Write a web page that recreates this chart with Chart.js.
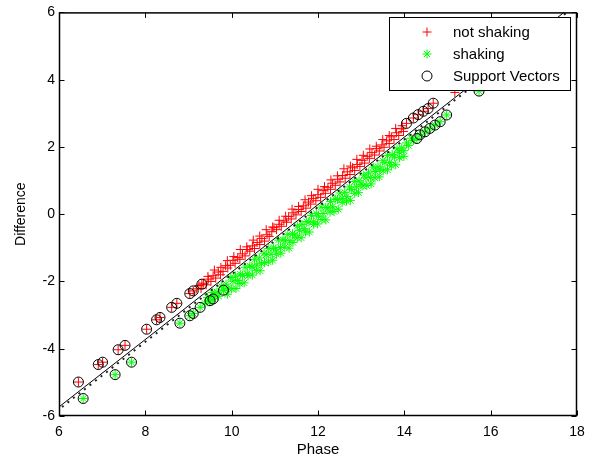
<!DOCTYPE html>
<html>
<head>
<meta charset="utf-8">
<script src="https://cdn.jsdelivr.net/npm/chart.js@4.4.0/dist/chart.umd.min.js"></script>
<style>
html, body { margin: 0; padding: 0; background: #fff; overflow: hidden; }
</style>
</head>
<body>
<canvas id="svmChart" width="594" height="460"></canvas>
<script>
// --- DATA ---

const xTicks = [6, 8, 10, 12, 14, 16, 18];
const yTicks = [-6, -4, -2, 0, 2, 4, 6];

// not shaking (red +), points that are not support vectors
const notShaking = [
    [9.18, -2.22], [9.24, -2.12], [9.29, -2.21], [9.35, -2.05], [9.41, -2.10], [9.46, -1.93],
    [9.52, -2.00], [9.57, -1.83], [9.63, -1.90], [9.69, -1.72], [9.74, -1.80], [9.80, -1.70],
    [9.86, -1.53], [9.91, -1.60], [9.97, -1.52], [10.03, -1.37], [10.08, -1.46], [10.14, -1.29],
    [10.19, -1.34], [10.25, -1.18], [10.31, -1.24], [10.36, -1.05], [10.42, -1.10], [10.48, -0.94],
    [10.53, -1.02], [10.59, -0.84], [10.65, -0.90], [10.70, -0.72], [10.76, -0.80], [10.82, -0.61],
    [10.87, -0.66], [10.93, -0.52], [10.98, -0.40], [11.04, -0.46], [11.10, -0.30], [11.15, -0.36],
    [11.21, -0.20], [11.27, -0.24], [11.32, -0.07], [11.38, -0.14], [11.44, 0.04], [11.49, -0.02],
    [11.55, 0.14], [11.61, 0.08], [11.66, 0.25], [11.72, 0.18], [11.78, 0.36], [11.83, 0.30],
    [11.89, 0.47], [11.95, 0.40], [12.00, 0.58], [12.06, 0.50], [12.12, 0.70], [12.17, 0.62],
    [12.23, 0.80], [12.29, 0.74], [12.34, 0.92], [12.40, 0.86], [12.46, 1.04], [12.51, 0.96],
    [12.57, 1.15], [12.63, 1.07], [12.68, 1.26], [12.74, 1.18], [12.80, 1.38], [12.85, 1.30],
    [12.91, 1.48], [12.97, 1.42], [13.02, 1.60], [13.08, 1.52], [13.14, 1.72], [13.19, 1.66],
    [13.25, 1.83], [13.31, 1.76], [13.36, 1.95], [13.42, 1.88], [13.48, 2.06], [13.53, 1.99],
    [13.59, 2.18], [13.65, 2.10], [13.70, 2.30], [13.76, 2.22], [13.82, 2.42], [13.87, 2.34],
    [13.93, 2.54], [13.98, 2.46], [15.17, 3.62],
    [9.45, -1.85], [9.60, -1.66], [9.75, -1.58], [9.90, -1.38], [10.05, -1.26], [10.20, -1.05],
    [10.35, -0.97], [10.50, -0.77], [10.65, -0.65], [10.80, -0.46], [10.95, -0.38], [11.10, -0.18],
    [11.25, -0.06], [11.40, 0.15], [11.55, 0.23], [11.70, 0.43], [11.85, 0.55], [12.00, 0.74],
    [12.15, 0.82], [12.30, 1.02], [12.45, 1.14], [12.60, 1.35], [12.75, 1.43], [12.90, 1.63],
    [13.05, 1.75], [13.20, 1.94], [13.35, 2.02], [13.50, 2.22], [13.65, 2.34], [13.80, 2.55],
    [13.95, 2.63]
];

// not shaking points that are support vectors
const notShakingSV = [
    [6.45, -4.99], [6.91, -4.47], [7.01, -4.40], [7.37, -4.03], [7.53, -3.90], [8.03, -3.42],
    [8.26, -3.14], [8.34, -3.07], [8.61, -2.77], [8.73, -2.65], [9.03, -2.36], [9.11, -2.28],
    [9.31, -2.08], [14.05, 2.70], [14.21, 2.86], [14.32, 2.96], [14.44, 3.06], [14.55, 3.14],
    [14.67, 3.30]
];

// shaking (green *), points that are not support vectors
const shaking = [
    [9.38, -2.65], [9.44, -2.48], [9.49, -2.61], [9.55, -2.33], [9.61, -2.44], [9.66, -2.31],
    [9.70, -2.44], [9.76, -2.14], [9.82, -2.26], [9.87, -2.08], [9.92, -2.20], [9.98, -1.88],
    [10.03, -1.99], [10.09, -1.84], [10.14, -1.97], [10.20, -1.78], [10.25, -1.82], [10.31, -1.58],
    [10.36, -1.77], [10.42, -1.54], [10.47, -1.57], [10.53, -1.34], [10.58, -1.51], [10.64, -1.30],
    [10.69, -1.46], [10.75, -1.16], [10.80, -1.21], [10.86, -1.02], [10.91, -1.19], [10.97, -1.00],
    [11.02, -1.04], [11.08, -0.77], [11.13, -0.99], [11.19, -0.76], [11.24, -0.79], [11.30, -0.60],
    [11.35, -0.79], [11.41, -0.58], [11.46, -0.62], [11.52, -0.35], [11.57, -0.48], [11.63, -0.30],
    [11.68, -0.43], [11.74, -0.22], [11.79, -0.23], [11.85, -0.04], [11.90, -0.23], [11.96, 0.02],
    [12.01, -0.06], [12.07, 0.21], [12.12, 0.02], [12.18, 0.20], [12.23, 0.19], [12.29, 0.38],
    [12.34, 0.22], [12.40, 0.45], [12.45, 0.44], [12.51, 0.63], [12.56, 0.47], [12.62, 0.65],
    [12.67, 0.53], [12.73, 0.81], [12.78, 0.73], [12.84, 0.97], [12.89, 0.81], [12.95, 0.99],
    [13.00, 0.89], [13.06, 1.16], [13.11, 1.08], [13.17, 1.23], [13.22, 1.09], [13.28, 1.40],
    [13.33, 1.27], [13.39, 1.41], [13.44, 1.34], [13.50, 1.59], [13.55, 1.53], [13.61, 1.75],
    [13.66, 1.54], [13.72, 1.77], [13.77, 1.70], [13.83, 1.94], [13.88, 1.84], [13.94, 1.97],
    [13.99, 1.89], [14.05, 2.12], [14.10, 2.04], [14.16, 2.26], [14.21, 2.19],
    [9.90, -2.38], [10.00, -2.22], [10.10, -2.21], [10.19, -2.06], [10.29, -2.04], [10.38, -1.83],
    [10.48, -1.81], [10.57, -1.67], [10.66, -1.68], [10.76, -1.44], [10.85, -1.42], [10.95, -1.37],
    [11.04, -1.19], [11.14, -1.16], [11.23, -0.98], [11.33, -1.01], [11.42, -0.84], [11.52, -0.70],
    [11.61, -0.70], [11.71, -0.53], [11.80, -0.53], [11.90, -0.30], [11.99, -0.29], [12.09, -0.16],
    [12.18, -0.17], [12.28, 0.06], [12.37, 0.08], [12.47, 0.15], [12.56, 0.35], [12.66, 0.39],
    [12.75, 0.41], [12.85, 0.62], [12.94, 0.64], [13.04, 0.84], [13.13, 0.85], [13.23, 0.90],
    [13.32, 1.08], [13.42, 1.11], [13.51, 1.29], [13.61, 1.32], [13.70, 1.44], [13.80, 1.47],
    [13.89, 1.68], [13.99, 1.72]
];

// shaking points that are support vectors
const shakingSV = [
    [6.56, -5.48], [7.30, -4.77], [7.68, -4.40], [8.80, -3.24], [9.03, -3.02], [9.11, -2.95],
    [9.27, -2.77], [9.50, -2.57], [9.57, -2.52], [9.81, -2.26], [14.29, 2.25], [14.36, 2.36],
    [14.48, 2.45], [14.59, 2.55], [14.71, 2.65], [14.83, 2.75], [14.98, 2.95], [15.73, 3.66]
];

// separating line and its dotted contour just beneath it
const boundary = [[6, -5.73], [17.7, 6]];
const boundaryDotted = [[6.07, -5.73], [17.77, 6]];

const legendItems = ['not shaking', 'shaking', 'Support Vectors'];

// --- PLUGINS ---

const FAMILY = '"Liberation Sans", Arial, sans-serif';

// box and inward ticks on all four sides plus the legend, drawn over the data (matlab style)
const framePlugin = {
    id: 'frame',
    afterDatasetsDraw(chart) {
        const { ctx, chartArea: a, scales } = chart;
        const L = a.left + 0.5, R = a.right - 0.5, T = a.top + 0.5, B = a.bottom - 0.5;
        ctx.save();
        ctx.strokeStyle = '#000';
        ctx.lineWidth = 1;
        ctx.beginPath();
        xTicks.forEach(v => {
            const px = Math.round(scales.x.getPixelForValue(v)) + 0.5;
            ctx.moveTo(px, B); ctx.lineTo(px, B - 5);
            ctx.moveTo(px, T); ctx.lineTo(px, T + 5);
        });
        yTicks.forEach(v => {
            const py = Math.round(scales.y.getPixelForValue(v)) + 0.5;
            ctx.moveTo(L, py); ctx.lineTo(L + 5, py);
            ctx.moveTo(R, py); ctx.lineTo(R - 5, py);
        });
        ctx.stroke();
        ctx.lineWidth = 1.5;
        ctx.strokeRect(L, T, R - L, B - T);

        // legend box in the top right corner
        const bx = 389.5, by = 17.5, bw = 181, bh = 73;
        ctx.fillStyle = '#fff';
        ctx.fillRect(bx, by, bw, bh);
        ctx.lineWidth = 1;
        ctx.strokeStyle = '#000';
        ctx.strokeRect(bx, by, bw, bh);
        const ds = chart.data.datasets;
        legendItems.forEach((label, i) => {
            const ly = 32 + i * 22;
            const d = ds[i];
            ctx.save();
            ctx.strokeStyle = d.borderColor;
            ctx.fillStyle = d.backgroundColor;
            ctx.lineWidth = d.borderWidth;
            Chart.helpers.drawPoint(ctx, {
                pointStyle: d.pointStyle,
                radius: d.pointRadius,
                borderWidth: d.borderWidth,
                rotation: 0
            }, 427, ly);
            ctx.restore();
            ctx.font = '15px ' + FAMILY;
            ctx.textBaseline = 'middle';
            ctx.textAlign = 'left';
            ctx.fillStyle = '#000';
            ctx.fillText(label, 453, ly + 1);
        });
        ctx.restore();
    }
};

// --- CHART ---

const ctx = document.getElementById('svmChart').getContext('2d');
new Chart(ctx, {
    type: 'scatter',
    data: {
        datasets: [
            {
                label: legendItems[0],
                data: notShaking.concat(notShakingSV),
                pointStyle: 'cross',
                pointRadius: 4.5,
                borderColor: '#ff0000',
                backgroundColor: '#ff0000',
                borderWidth: 1,
                order: 4
            },
            {
                label: legendItems[1],
                data: shaking.concat(shakingSV),
                pointStyle: 'star',
                pointRadius: 4.5,
                borderColor: '#00ff00',
                backgroundColor: '#00ff00',
                borderWidth: 1,
                order: 3
            },
            {
                label: legendItems[2],
                data: notShakingSV.concat(shakingSV),
                pointStyle: 'circle',
                pointRadius: 5,
                borderColor: '#000',
                backgroundColor: 'rgba(0,0,0,0)',
                borderWidth: 1,
                order: 2
            },
            {
                label: 'boundary',
                data: boundary,
                showLine: true,
                pointRadius: 0,
                borderColor: '#000',
                borderWidth: 1,
                order: 1
            },
            {
                label: 'boundary dotted',
                data: boundaryDotted,
                showLine: true,
                pointRadius: 0,
                borderColor: '#222',
                borderWidth: 2,
                borderDash: [2, 5],
                order: 0
            }
        ]
    },
    options: {
        responsive: false,
        animation: false,
        layout: { padding: { top: 10, right: 17, left: 0, bottom: 0 } },
        plugins: {
            legend: { display: false },
            tooltip: { enabled: false }
        },
        scales: {
            x: {
                type: 'linear',
                min: 6,
                max: 18,
                afterBuildTicks: s => { s.ticks = xTicks.map(v => ({ value: v })); },
                afterFit: s => { s.height = 44; },
                grid: { display: false, drawTicks: false },
                border: { display: false },
                ticks: { color: '#000', padding: 8, font: { family: FAMILY, size: 14 } },
                title: {
                    display: true,
                    text: 'Phase',
                    color: '#000',
                    padding: { top: 0, bottom: 1 },
                    font: { family: FAMILY, size: 15 }
                }
            },
            y: {
                type: 'linear',
                min: -6,
                max: 6,
                afterBuildTicks: s => { s.ticks = yTicks.map(v => ({ value: v })); },
                afterFit: s => { s.width = 59; },
                grid: { display: false, drawTicks: false },
                border: { display: false },
                ticks: { color: '#000', padding: 4, font: { family: FAMILY, size: 14 } },
                title: {
                    display: true,
                    text: 'Difference',
                    color: '#000',
                    padding: { top: 13, bottom: 0 },
                    font: { family: FAMILY, size: 14 }
                }
            }
        }
    },
    plugins: [framePlugin]
});
</script>
</body>
</html>
